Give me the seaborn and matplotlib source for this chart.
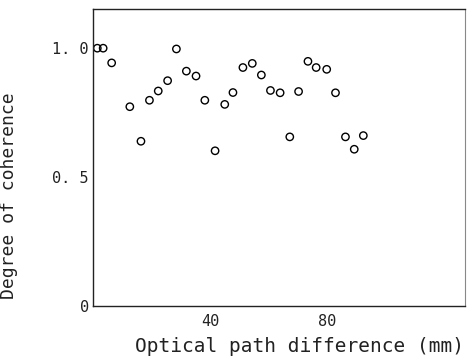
import numpy as np
import pandas as pd
import matplotlib
matplotlib.use('Agg')
import matplotlib.pyplot as plt
import seaborn as sns

# values
path_diff = [1.5, 3.5, 6.4, 12.6, 16.4, 19.3, 22.3, 25.5, 28.5, 31.9, 35.2, 38.2,
             41.7, 45.0, 47.8, 51.2, 54.4, 57.5, 60.6, 63.9, 67.2, 70.2, 73.4,
             76.2, 79.8, 82.8, 86.2, 89.2, 92.3]
coherence = [1.0, 1.0, 0.943, 0.773, 0.639, 0.798, 0.834, 0.874, 0.997, 0.911, 0.892,
             0.798, 0.602, 0.782, 0.828, 0.925, 0.941, 0.896, 0.836, 0.827, 0.656,
             0.832, 0.949, 0.925, 0.918, 0.827, 0.656, 0.608, 0.661]
y_ticks = [0, 0.5, 1.0]
y_labels = ['0', '0. 5', '1. 0']
x_ticks = [40, 80]
x_labels = ['40', '80']

df = pd.DataFrame({'x': path_diff, 'y': coherence})

sns.set_style('white')
plt.rcParams['font.family'] = ['DejaVu Sans Mono']
ink = '#222222'

fig = plt.figure(figsize=(4.74, 3.6), dpi=100)
ax = fig.add_axes([0.196, 0.15, 0.785, 0.825])

sns.scatterplot(data=df, x='x', y='y', ax=ax, marker='o', s=28,
                facecolors='none', edgecolor='black', linewidth=1.0)

ax.set_xlim(0, 127)
ax.set_ylim(0, 1.152)
ax.set_xticks(x_ticks)
ax.set_xticklabels(x_labels)
ax.set_yticks(y_ticks)
ax.set_yticklabels(y_labels)
ax.tick_params(direction='in', length=9, width=1.0, colors=ink, labelsize=11)
ax.tick_params(axis='x', pad=6)
ax.tick_params(axis='y', pad=3)

for side in ['left', 'bottom', 'top']:
    ax.spines[side].set_color(ink)
    ax.spines[side].set_linewidth(1.0)
ax.spines['right'].set_color('#888888')
ax.spines['right'].set_linewidth(0.8)

ax.set_xlabel('Optical path difference (mm)', fontsize=14, color=ink)
ax.xaxis.set_label_coords(0.555, -0.105)
ax.set_ylabel('Degree of coherence', fontsize=13, color=ink)
ax.yaxis.set_label_coords(-0.2, 0.37)

fig.savefig('out.png', dpi=100)
